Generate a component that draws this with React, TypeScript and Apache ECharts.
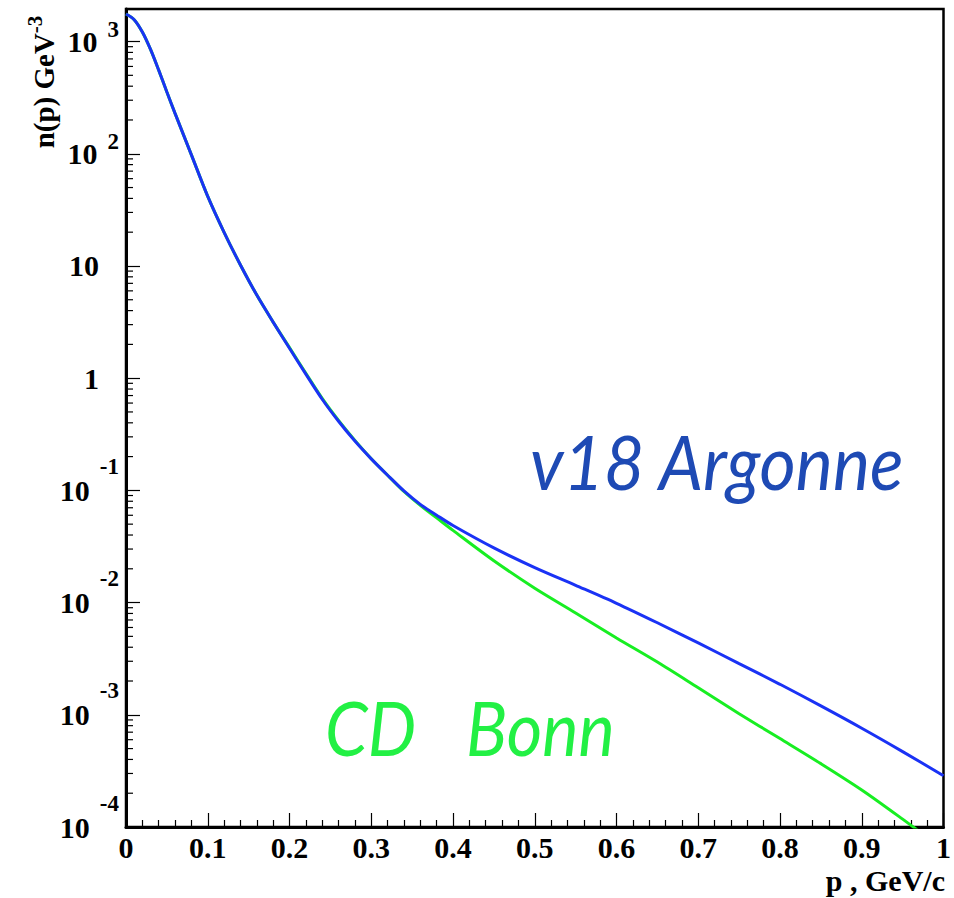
import React, { useEffect, useRef } from "react";
import * as echarts from "echarts";

// momentum p (GeV/c)
const momentum = [0, 0.01, 0.02, 0.03, 0.04, 0.05, 0.06, 0.08, 0.1, 0.12, 0.14, 0.16, 0.18, 0.2, 0.22, 0.24, 0.26, 0.28, 0.3, 0.32, 0.34, 0.36, 0.38, 0.4, 0.45, 0.5, 0.55, 0.6, 0.65, 0.7, 0.75, 0.8, 0.85, 0.9, 0.95, 1.0];
// n(p) GeV^-3, v18 Argonne potential
const argonneV18 = [1758, 1567, 1216, 851, 556, 355, 229, 97.7, 41.7, 19.95, 10.2, 5.5, 3.16, 1.845, 1.086, 0.649, 0.413, 0.275, 0.191, 0.1365, 0.0989, 0.075, 0.0601, 0.0486, 0.0307, 0.0205, 0.01426, 0.00986, 0.00661, 0.00437, 0.00286, 0.00187, 0.0012, 0.000759, 0.00047, 0.000286];
// n(p) GeV^-3, CD Bonn potential
const cdBonn = [1758, 1567, 1216, 851, 556, 355, 229, 97.7, 41.7, 19.95, 10.2, 5.5, 3.16, 1.871, 1.107, 0.661, 0.42, 0.279, 0.1914, 0.1365, 0.0977, 0.0735, 0.0569, 0.044, 0.0236, 0.01343, 0.00809, 0.00484, 0.00295, 0.00174, 0.001023, 0.000614, 0.000367, 0.000214, 0.0001175, 0.0000631];

const yDecades = [-4, -3, -2, -1, 0, 1, 2];
const yMinorMultipliers = [2, 3, 4, 5, 6, 7, 8, 9];

const SERIF = '"Liberation Serif", "Times New Roman", serif';

export default function App() {
  const ref = useRef<HTMLDivElement>(null);
  useEffect(() => {
    document.body.style.margin = "0";
    if (!ref.current) return;
    const chart = echarts.init(ref.current, null, { renderer: "svg" });
    const minorTicks: number[][] = [];
    yDecades.forEach((k) => yMinorMultipliers.forEach((m) => minorTicks.push([0, m * Math.pow(10, k)])));
    const option: any = {
      animation: false,
      backgroundColor: "#fff",
      grid: { left: 126, right: 9, top: 9, bottom: 71, show: true, borderColor: "#000", borderWidth: 2.5, backgroundColor: "transparent" },
      xAxis: {
        type: "value", min: 0, max: 1, interval: 0.1,
        axisLine: { show: true, lineStyle: { color: "#000", width: 3 } },
        axisTick: { show: true, inside: true, length: 14, lineStyle: { color: "#000", width: 1.2 } },
        minorTick: { show: true, splitNumber: 5, length: 7, lineStyle: { color: "#000", width: 1.2 } },
        splitLine: { show: false },
        axisLabel: { margin: 5, color: "#000", fontSize: 30, fontWeight: "bold", fontFamily: SERIF },
      },
      yAxis: {
        type: "log", logBase: 10, min: 1e-4, max: 1950,
        axisLine: { show: true, lineStyle: { color: "#000", width: 3 } },
        axisTick: { show: true, inside: true, length: 14, lineStyle: { color: "#000", width: 1.2 } },
        splitLine: { show: false },
        axisLabel: {
          margin: 7, color: "#000",
          formatter: (v: number) => {
            const lg = Math.log10(v);
            const k = Math.round(lg);
            if (Math.abs(lg - k) > 1e-6) return "";
            if (k === 0) return "{one|1}";
            if (k === 1) return "{one|10}";
            if (k < 0) return "{bn|10}{s|" + k + "}";
            return "{bp|10}{s|" + k + "}";
          },
          rich: {
            one: { fontSize: 30, fontWeight: "bold", fontFamily: SERIF, color: "#000", padding: [0, 20, 0, 0] },
            bn: { fontSize: 30, fontWeight: "bold", fontFamily: SERIF, color: "#000", lineHeight: 71 },
            bp: { fontSize: 30, fontWeight: "bold", fontFamily: SERIF, color: "#000", lineHeight: 47 },
            s: { fontSize: 23, fontWeight: "bold", fontFamily: SERIF, color: "#000", verticalAlign: "top", padding: [0, 0, 0, 10] },
          },
        },
      },
      series: [
        {
          type: "custom", silent: true, z: 5,
          data: minorTicks,
          renderItem: (params: any, api: any) => {
            const pt = api.coord([0, api.value(1)]);
            return { type: "line", shape: { x1: pt[0], y1: pt[1], x2: pt[0] + 7, y2: pt[1] }, style: { stroke: "#000", lineWidth: 1.2 } };
          },
        },
        {
          name: "CD Bonn", type: "line", showSymbol: false, symbol: "none", smooth: 0.3, clip: true,
          lineStyle: { color: "#18ee22", width: 3 },
          data: momentum.map((p, i) => [p, cdBonn[i]]),
        },
        {
          name: "v18 Argonne", type: "line", showSymbol: false, symbol: "none", smooth: 0.3, clip: true,
          lineStyle: { color: "#1a32f5", width: 3 },
          data: momentum.map((p, i) => [p, argonneV18[i]]),
        },
      ],
      graphic: [
        {
          type: "text", x: 530, y: 461, scaleX: 0.92,
          style: { text: "v18 Argonne", fontSize: 76, fontStyle: "italic", fontFamily: "Lato", fill: "#1e4ab4", verticalAlign: "middle", align: "left" },
        },
        {
          type: "text", x: 325, y: 727, scaleX: 0.9,
          style: { text: "CD", fontSize: 76, fontStyle: "italic", fontFamily: "Lato", fill: "#22f044", verticalAlign: "middle", align: "left" },
        },
        {
          type: "text", x: 466, y: 727, scaleX: 0.9,
          style: { text: "Bonn", fontSize: 76, fontStyle: "italic", fontFamily: "Lato", fill: "#22f044", verticalAlign: "middle", align: "left" },
        },
        {
          type: "text", x: 945, y: 880,
          style: { text: "p , GeV/c", font: 'bold 30px "Liberation Serif"', fill: "#000", align: "right", verticalAlign: "middle" },
        },
        {
          type: "text", x: 44, y: 82, rotation: Math.PI / 2,
          style: {
            text: "{b|n(p) GeV}{s|-3}", align: "center", verticalAlign: "middle",
            rich: {
              b: { fontSize: 29, fontWeight: "bold", fontFamily: SERIF, fill: "#000", lineHeight: 40 },
              s: { fontSize: 21, fontWeight: "bold", fontFamily: SERIF, fill: "#000", verticalAlign: "top" },
            },
          },
        },
      ],
    };
    chart.setOption(option);
    return () => chart.dispose();
  }, []);
  return <div ref={ref} style={{ position: "fixed", left: 0, top: 0, width: 954, height: 898 }} />;
}
